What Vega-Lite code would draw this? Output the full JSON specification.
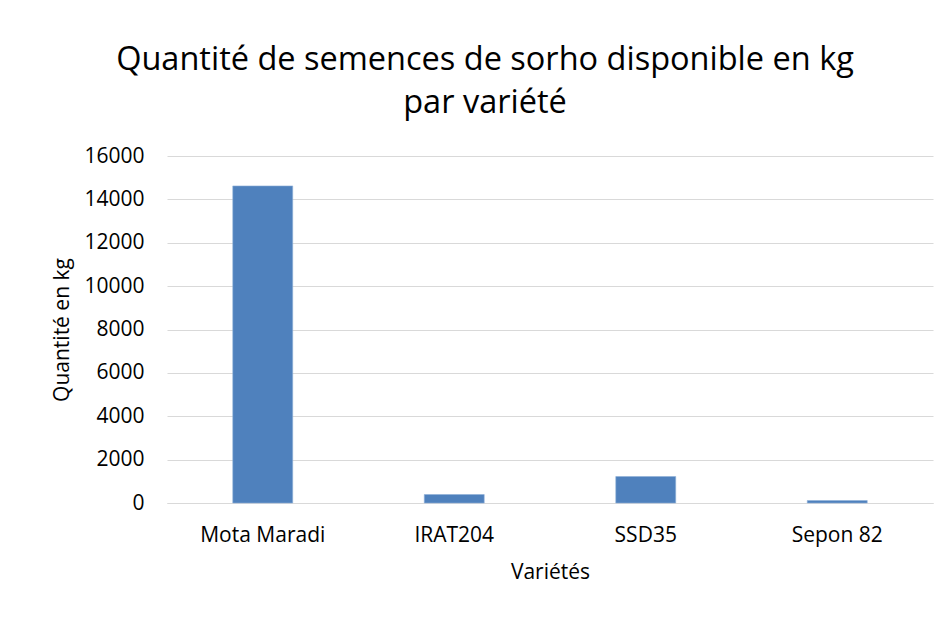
{
  "$schema": "https://vega.github.io/schema/vega-lite/v6.json",
  "width": 766,
  "height": 347,
  "autosize": "none",
  "padding": {"left": 167, "top": 156, "right": 14, "bottom": 114},
  "background": "white",
  "title": {
    "text": ["Quantité de semences de sorho disponible en kg", "par variété"],
    "font": "Open Sans",
    "fontSize": 32.5,
    "fontWeight": "normal",
    "color": "#000000",
    "lineHeight": 43,
    "anchor": "middle",
    "dx": -65,
    "offset": 26
  },
  "data": {
    "values": [
      {"variete": "Mota Maradi", "quantite": 14620},
      {"variete": "IRAT204", "quantite": 390},
      {"variete": "SSD35", "quantite": 1220},
      {"variete": "Sepon 82", "quantite": 115}
    ]
  },
  "mark": {"type": "bar", "color": "#4f81bd", "stroke": "#8eb0d8", "strokeWidth": 0.6},
  "encoding": {
    "x": {
      "field": "variete",
      "type": "nominal",
      "sort": null,
      "title": "Variétés",
      "scale": {"paddingInner": 0.687, "paddingOuter": 0.3435},
      "axis": {
        "labelAngle": 0,
        "labelFont": "Open Sans",
        "labelFontSize": 21,
        "labelColor": "#000000",
        "labelPadding": 21,
        "ticks": false,
        "domainColor": "#d9d9d9",
        "domainWidth": 1,
        "titleFont": "Open Sans",
        "titleFontSize": 21,
        "titleFontWeight": "normal",
        "titleColor": "#000000",
        "titlePadding": 16
      }
    },
    "y": {
      "field": "quantite",
      "type": "quantitative",
      "title": "Quantité en kg",
      "scale": {"domain": [0, 16000], "nice": false},
      "axis": {
        "values": [0, 2000, 4000, 6000, 8000, 10000, 12000, 14000, 16000],
        "format": "d",
        "domain": false,
        "ticks": false,
        "labelFont": "Open Sans",
        "labelFontSize": 21,
        "labelColor": "#000000",
        "labelPadding": 23,
        "gridColor": "#d9d9d9",
        "gridWidth": 1,
        "titleFont": "Open Sans",
        "titleFontSize": 21,
        "titleFontWeight": "normal",
        "titleColor": "#000000",
        "titlePadding": 11
      }
    }
  },
  "config": {"view": {"stroke": null}}
}
